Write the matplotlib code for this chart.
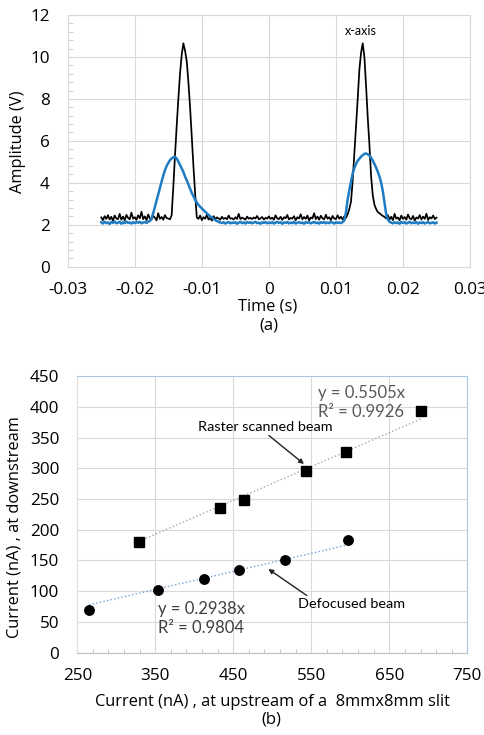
import numpy as np
import matplotlib
matplotlib.use("Agg")
import matplotlib.pyplot as plt

# ---- panel (a): scope traces, sampled every 0.25 ms from -25 ms to 25 ms
t_start = -0.025
t_step = 0.00025
black_v = [
    2.35, 2.22, 2.41, 2.28, 2.46, 2.25, 2.38, 2.19, 2.44, 2.30,
    2.27, 2.52, 2.24, 2.39, 2.21, 2.47, 2.33, 2.26, 2.58, 2.29,
    2.36, 2.23, 2.45, 2.31, 2.62, 2.27, 2.40, 2.22, 2.49, 2.30,
    2.25, 2.43, 2.34, 2.21, 2.55, 2.28, 2.37, 2.24, 2.46, 2.32,
    2.30, 2.26, 2.45, 3.80, 5.30, 6.70, 8.00, 9.20, 10.10, 10.65,
    10.30, 9.80, 8.80, 7.60, 6.20, 4.80, 3.50, 2.35, 2.28, 2.44,
    2.22, 2.36, 2.29, 2.48, 2.25, 2.33, 2.20, 2.41, 2.27, 2.35,
    2.30, 2.24, 2.38, 2.28, 2.33, 2.26, 2.44, 2.29, 2.31, 2.25,
    2.36, 2.28, 2.52, 2.27, 2.34, 2.30, 2.24, 2.39, 2.29, 2.33,
    2.27, 2.35, 2.30, 2.42, 2.26, 2.31, 2.37, 2.25, 2.33, 2.29,
    2.40, 2.28, 2.34, 2.24, 2.45, 2.30, 2.27, 2.38, 2.23, 2.36,
    2.31, 2.47, 2.25, 2.33, 2.29, 2.41, 2.22, 2.36, 2.30, 2.50,
    2.26, 2.37, 2.28, 2.44, 2.21, 2.35, 2.30, 2.55, 2.27, 2.39,
    2.24, 2.43, 2.31, 2.26, 2.48, 2.29, 2.36, 2.22, 2.42, 2.30,
    2.27, 2.45, 2.29, 2.38, 2.25, 2.40, 2.33, 2.50, 2.75, 3.10,
    4.10, 5.40, 6.70, 8.00, 9.40, 10.20, 10.65, 10.00, 8.60, 7.10,
    5.80, 4.30, 3.40, 2.95, 2.75, 2.60, 2.55, 2.48, 2.42, 2.38,
    2.30, 2.46, 2.25, 2.38, 2.22, 2.52, 2.29, 2.35, 2.21, 2.44,
    2.28, 2.37, 2.24, 2.49, 2.31, 2.26, 2.42, 2.20, 2.35, 2.30,
    2.46, 2.25, 2.39, 2.28, 2.53, 2.23, 2.36, 2.30, 2.44, 2.27,
    2.34,
]
blue_v = [
    2.12, 2.06, 2.15, 2.08, 2.11, 2.04, 2.13, 2.09, 2.16, 2.07,
    2.10, 2.14, 2.05, 2.12, 2.08, 2.15, 2.09, 2.11, 2.06, 2.13,
    2.08, 2.12, 2.10, 2.14, 2.07, 2.11, 2.13, 2.09, 2.15, 2.18,
    2.30, 2.55, 2.85, 3.15, 3.45, 3.75, 4.05, 4.35, 4.60, 4.80,
    4.95, 5.08, 5.16, 5.22, 5.24, 5.16, 5.02, 4.85, 4.68, 4.52,
    4.30, 4.12, 3.92, 3.72, 3.52, 3.36, 3.20, 3.06, 2.95, 2.86,
    2.78, 2.70, 2.62, 2.55, 2.47, 2.40, 2.34, 2.28, 2.22, 2.18,
    2.14, 2.11, 2.08, 2.12, 2.06, 2.10, 2.13, 2.07, 2.11, 2.09,
    2.12, 2.05, 2.10, 2.14, 2.08, 2.11, 2.06, 2.13, 2.09, 2.12,
    2.07, 2.11, 2.14, 2.08, 2.10, 2.05, 2.12, 2.09, 2.13, 2.07,
    2.11, 2.08, 2.13, 2.06, 2.10, 2.14, 2.09, 2.12, 2.05, 2.11,
    2.09, 2.13, 2.07, 2.11, 2.08, 2.14, 2.06, 2.10, 2.12, 2.08,
    2.11, 2.05, 2.13, 2.09, 2.12, 2.07, 2.10, 2.14, 2.08, 2.11,
    2.06, 2.12, 2.09, 2.13, 2.07, 2.11, 2.08, 2.14, 2.10, 2.06,
    2.12, 2.09, 2.11, 2.08, 2.13, 2.20, 2.60, 3.20, 3.65, 4.05,
    4.45, 4.70, 4.90, 5.05, 5.15, 5.25, 5.32, 5.38, 5.40, 5.36,
    5.30, 5.20, 5.05, 4.90, 4.72, 4.52, 4.30, 4.00, 3.60, 3.05,
    2.50, 2.25, 2.14, 2.10, 2.07, 2.12, 2.08, 2.11, 2.05, 2.13,
    2.09, 2.12, 2.06, 2.10, 2.14, 2.07, 2.11, 2.08, 2.13, 2.05,
    2.11, 2.08, 2.12, 2.06, 2.10, 2.13, 2.07, 2.09, 2.12, 2.06,
    2.10,
]
t = t_start + t_step * np.arange(len(black_v))

# ---- panel (b): downstream vs upstream current
raster_up = [329, 433, 464, 543, 594, 690]
raster_down = [180, 236, 249, 296, 326, 393]
defoc_up = [265, 354, 413, 457, 516, 597]
defoc_down = [70, 102, 120, 134, 150, 184]
raster_slope = 0.5505
raster_r2 = 0.9926
defoc_slope = 0.2938
defoc_r2 = 0.9804

grid_c = '#d9d9d9'
font = 'Open Sans'
note_font = ['Lato', 'DejaVu Sans']
plt.rcParams['font.family'] = [font, 'DejaVu Sans']
tick_fs = 12.3
lab_fs = 11.8

fig = plt.figure(figsize=(4.84, 7.35), dpi=100)

# ---------- (a)
ax1 = fig.add_axes([0.1399, 0.6371, 0.8312, 0.3425])
ax1.plot(t, black_v, color='black', lw=1.25, zorder=3)
ax1.plot(t, blue_v, color='#1f7cc2', lw=1.8, zorder=4)
ax1.set_xlim(-0.03, 0.03)
ax1.set_ylim(0, 12)
ax1.set_xticks(np.arange(-0.03, 0.0301, 0.01))
ax1.set_xticklabels(['-0.03', '-0.02', '-0.01', '0', '0.01', '0.02', '0.03'])
ax1.set_yticks(np.arange(0, 12.1, 2))
ax1.set_yticks(np.arange(0, 12.01, 0.4), minor=True)
ax1.grid(True, color=grid_c, lw=0.8, zorder=0)
for s in ax1.spines.values():
    s.set_color(grid_c)
ax1.tick_params(axis='x', which='major', length=0, labelsize=tick_fs, pad=11)
ax1.tick_params(axis='y', which='major', length=0, labelsize=tick_fs, pad=13)
ax1.tick_params(axis='y', which='minor', direction='in', length=3.5, color='#c8c8c8')
ax1.set_ylabel('Amplitude (V)', fontsize=lab_fs, va='center')
ax1.yaxis.set_label_coords(-0.123, 0.497)
ax1.set_xlabel('Time (s)', fontsize=lab_fs, va='center')
ax1.xaxis.set_label_coords(0.498, -0.159)
ax1.text(0.0137, 11.25, 'x-axis', fontsize=9, ha='center', va='center',
         family=note_font)
fig.text(0.556, 1 - 325 / 735, '(a)', fontsize=12, ha='center', va='center')

# ---------- (b)
ax2 = fig.add_axes([0.1597, 0.1120, 0.8058, 0.3764])
ru = np.array(raster_up)
du = np.array(defoc_up)
ax2.plot([ru.min(), ru.max()], [raster_slope * ru.min(), raster_slope * ru.max()],
         ls=':', color='#a6a6a6', lw=1, zorder=2)
ax2.plot([du.min(), du.max()], [defoc_slope * du.min(), defoc_slope * du.max()],
         ls=':', color='#6fa0d8', lw=1, zorder=2)
ax2.plot(raster_up, raster_down, 's', color='black', ms=6.5, zorder=3)
ax2.plot(defoc_up, defoc_down, 'o', color='black', ms=6.8, zorder=3)
ax2.set_xlim(250, 750)
ax2.set_ylim(0, 450)
ax2.set_xticks(np.arange(250, 751, 100))
ax2.set_xticks(np.arange(250, 751, 20), minor=True)
ax2.set_yticks(np.arange(0, 451, 50))
ax2.grid(True, color=grid_c, lw=0.8, zorder=0)
ax2.spines['left'].set_color('#e0e0e0')
ax2.spines['bottom'].set_color('#bfbfbf')
ax2.spines['top'].set_color('#a9c8e6')
ax2.spines['right'].set_color('#a9c8e6')
ax2.tick_params(axis='x', which='major', length=0, labelsize=tick_fs, pad=11)
ax2.tick_params(axis='y', which='major', length=0, labelsize=tick_fs, pad=13)
ax2.tick_params(axis='x', which='minor', direction='in', length=3, color='#bfbfbf')
ax2.set_ylabel('Current (nA) , at downstream', fontsize=lab_fs, va='center')
ax2.yaxis.set_label_coords(-0.16, 0.455)
ax2.set_xlabel('Current (nA) , at upstream of a  8mmx8mm slit', fontsize=lab_fs,
               va='center')
ax2.xaxis.set_label_coords(0.5005, -0.177)

eq_fs = 12
ax2.text(558, 422, 'y = %.4fx' % raster_slope, fontsize=eq_fs, color='#595959',
         va='center', family=note_font)
ax2.text(558, 391, 'R² = %.4f' % raster_r2, fontsize=eq_fs, color='#595959',
         va='center', family=note_font)
ax2.text(354, 70.5, 'y = %.4fx' % defoc_slope, fontsize=eq_fs, color='#404040',
         va='center', family=note_font)
ax2.text(354, 39.6, 'R² = %.4f' % defoc_r2, fontsize=eq_fs, color='#404040',
         va='center', family=note_font)
ax2.annotate('Raster scanned beam', xy=(540.6, 306.9), xytext=(405, 367.6),
             fontsize=10.4, va='center', family=note_font,
             arrowprops=dict(arrowstyle='-|>', color='#222222', lw=1,
                             mutation_scale=7, shrinkA=0, shrinkB=0,
                             relpos=(0.5, 0)))
ax2.annotate('Defocused beam', xy=(494.9, 136.1), xytext=(533, 78.6),
             fontsize=10.4, va='center', family=note_font,
             arrowprops=dict(arrowstyle='-|>', color='#222222', lw=1,
                             mutation_scale=7, shrinkA=0, shrinkB=0,
                             relpos=(0.12, 1)))
fig.text(0.561, 1 - 720 / 735, '(b)', fontsize=12, ha='center', va='center')

fig.savefig('out.png', dpi=100)
